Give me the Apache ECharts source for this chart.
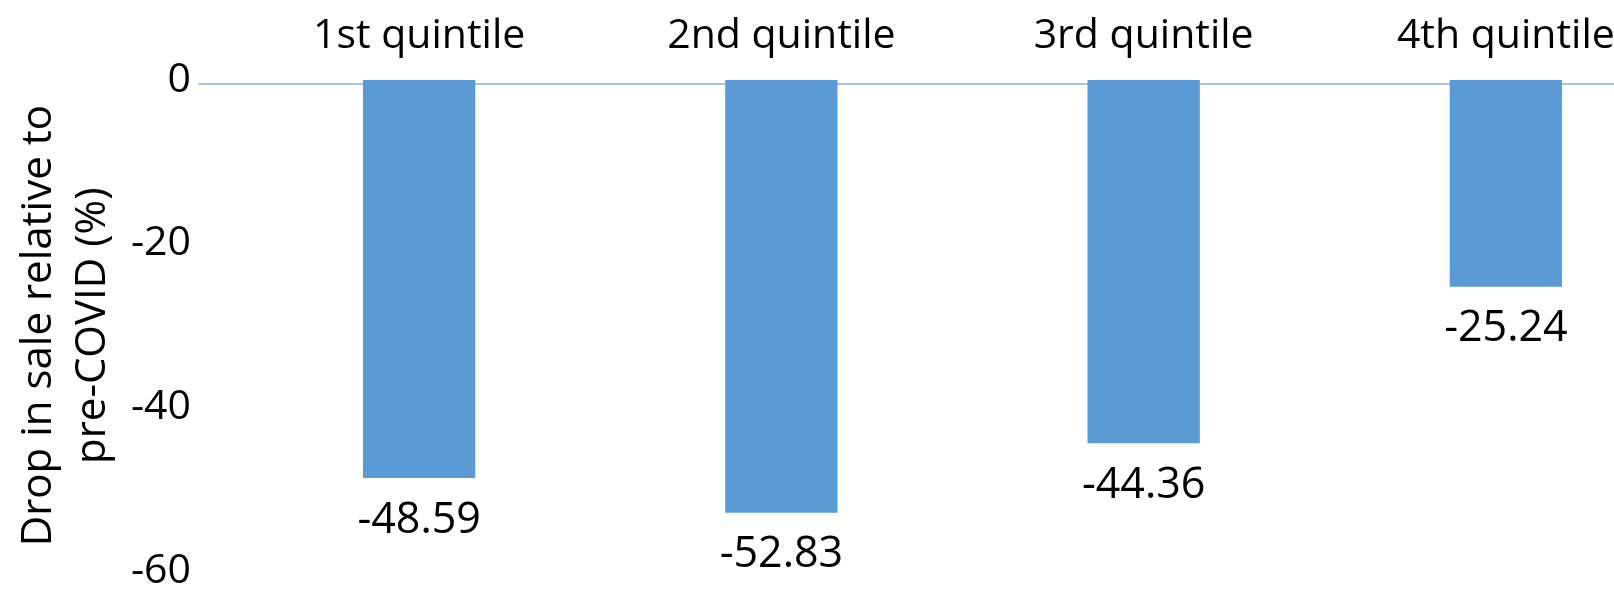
<!DOCTYPE html>
<html>
<head>
<meta charset="utf-8">
<script src="https://cdn.jsdelivr.net/npm/echarts@6/dist/echarts.min.js"></script>
<style>
html,body{margin:0;padding:0;background:#fff;}
#chart{width:1614px;height:589px;}
</style>
</head>
<body>
<div id="chart"></div>
<script>
const categories = ['1st quintile', '2nd quintile', '3rd quintile', '4th quintile'];
const values = [-48.59, -52.83, -44.36, -25.24];
const yTicks = { min: -60, max: 0, interval: 20 };
const yTitle = 'Drop in sale relative to\npre-COVID (%)';

const FONT = 'Open Sans';
const chart = echarts.init(document.getElementById('chart'), null, { renderer: 'canvas' });
chart.setOption({
  animation: false,
  backgroundColor: '#ffffff',
  textStyle: { fontFamily: FONT },
  grid: [
    { left: 238, top: 80, width: 1449, bottom: 17.6, containLabel: false, outerBoundsMode: 'none' },
    { left: 199, top: 74, right: 0, height: 10, containLabel: false, outerBoundsMode: 'none' }
  ],
  xAxis: [
    {
      type: 'category', data: categories, gridIndex: 0, position: 'top', offset: 6,
      axisLine: { show: false }, axisTick: { show: false },
      axisLabel: { fontFamily: FONT, fontSize: 41, color: '#000', margin: 17 }
    },
    {
      type: 'value', gridIndex: 1, position: 'top', min: 0, max: 1,
      axisLine: { show: true, lineStyle: { color: '#86B3DF', width: 1.5 } },
      axisTick: { show: false }, axisLabel: { show: false }, splitLine: { show: false }
    }
  ],
  yAxis: [
    {
      type: 'value', gridIndex: 0, min: yTicks.min, max: yTicks.max, interval: yTicks.interval,
      axisLine: { show: false }, axisTick: { show: false }, splitLine: { show: false },
      axisLabel: { fontFamily: FONT, fontSize: 41, color: '#000', margin: 47 },
      name: yTitle, nameLocation: 'middle', nameGap: 112, nameRotate: 90,
      nameTextStyle: { fontFamily: FONT, fontSize: 42, color: '#000', lineHeight: 54, align: 'center' }
    },
    { type: 'value', gridIndex: 1, show: false }
  ],
  series: [{
    type: 'bar', xAxisIndex: 0, yAxisIndex: 0, data: values,
    barWidth: '31%',
    itemStyle: { color: '#5B9BD5' },
    label: {
      show: true, position: 'bottom', distance: 21,
      fontFamily: FONT, fontSize: 43, color: '#000',
      formatter: p => p.value.toFixed(2)
    }
  }]
});
</script>
</body>
</html>
